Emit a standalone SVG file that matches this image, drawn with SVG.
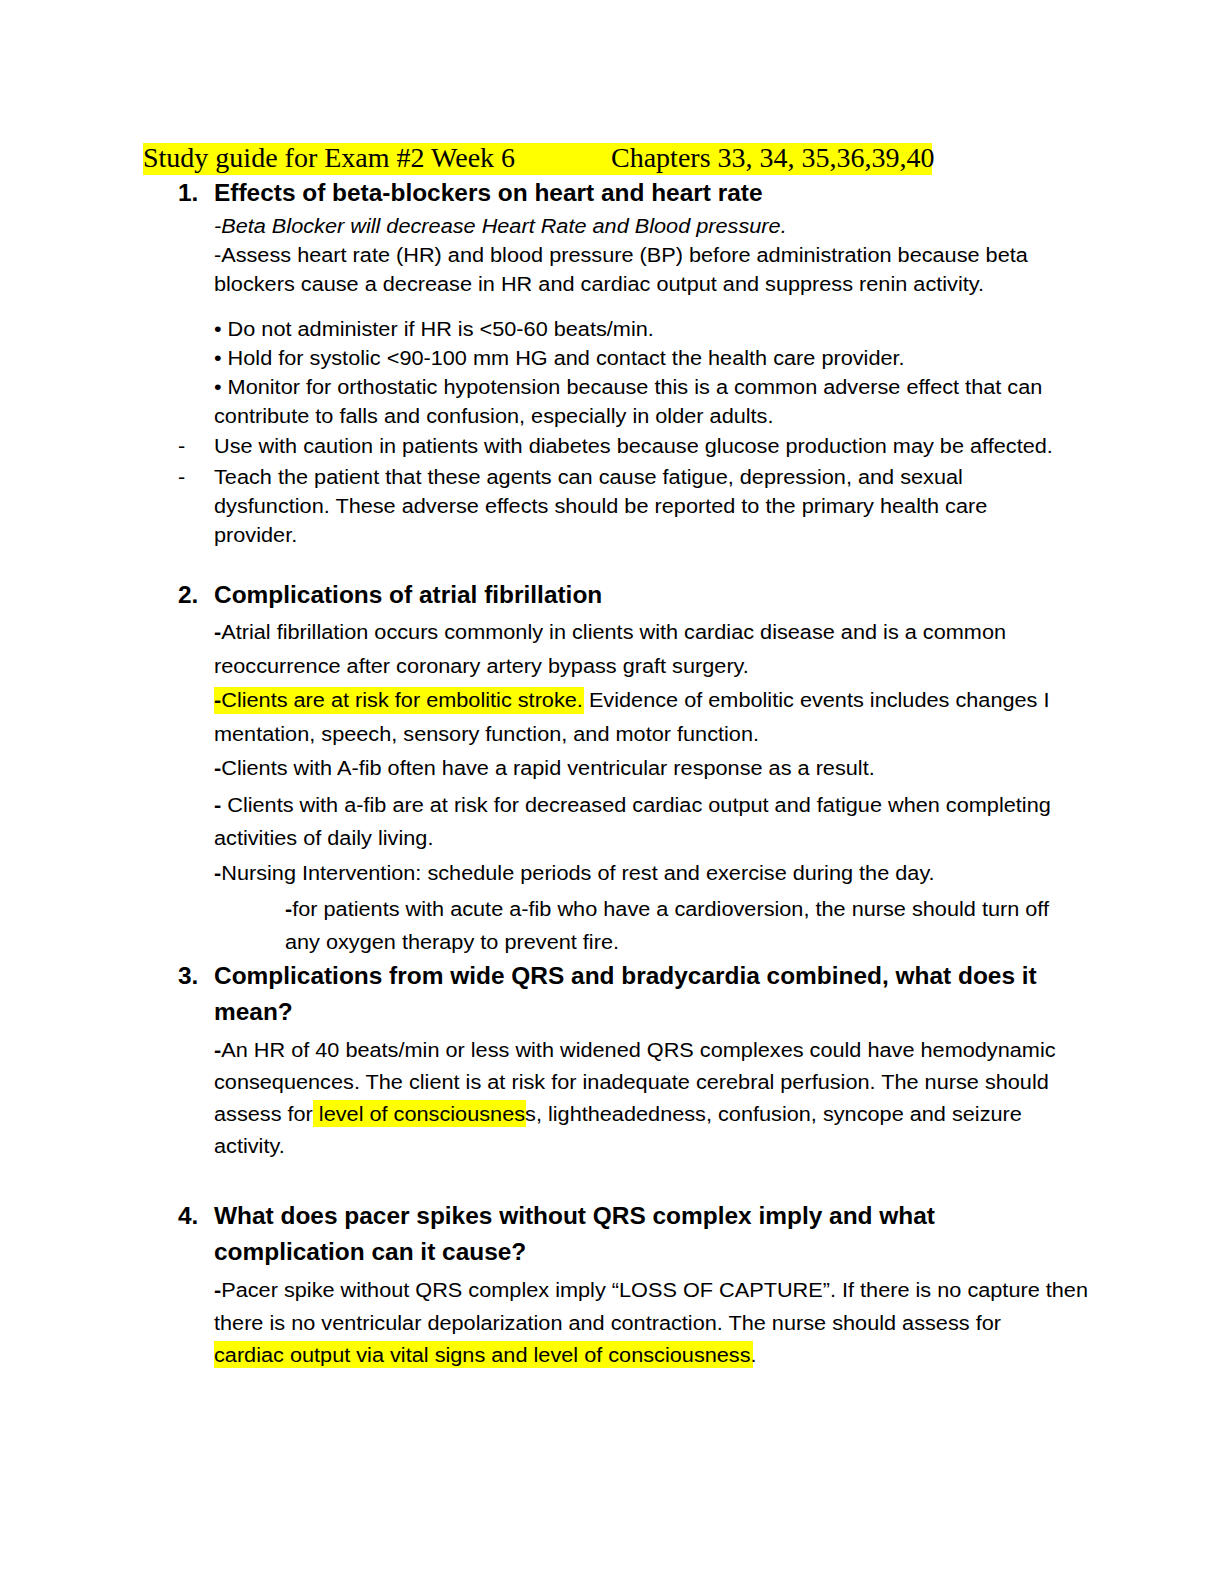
<svg xmlns="http://www.w3.org/2000/svg" width="1224" height="1584" viewBox="0 0 1224 1584">
<style>
.t{font-family:"Liberation Sans","DejaVu Sans",sans-serif;font-size:20px;fill:#000}
.h{font-family:"Liberation Sans","DejaVu Sans",sans-serif;font-size:23.5px;font-weight:bold;fill:#000}
.i{font-style:italic}
.b{font-weight:bold}
.s{font-family:"Liberation Serif","Times New Roman",serif;font-size:28px;fill:#000}
.hl{fill:#ffff00}
</style>
<rect width="1224" height="1584" fill="#fff"/>
<g id="highlights">
<rect class="hl" x="143" y="143" width="789" height="32"/>
<rect class="hl" x="214" y="687" width="370" height="27"/>
<rect class="hl" x="313" y="1100" width="213" height="27"/>
<rect class="hl" x="214" y="1341" width="539" height="27"/>
</g>
<text class="s" x="143" y="167">Study guide for Exam #2 Week 6</text>
<text class="s" x="611" y="167">Chapters 33, 34, 35,36,39,40</text>

<g transform="translate(214,0) scale(1.04,1) translate(-214,0)">
<text class="h" x="179.4" y="201">1.</text>
<text class="h" x="214" y="201">Effects of beta-blockers on heart and heart rate</text>
<text class="h" x="179.4" y="603">2.</text>
<text class="h" x="214" y="603">Complications of atrial fibrillation</text>
<text class="h" x="179.4" y="984">3.</text>
<text class="h" x="214" y="984">Complications from wide QRS and bradycardia combined, what does it</text>
<text class="h" x="214" y="1020">mean?</text>
<text class="h" x="179.4" y="1224">4.</text>
<text class="h" x="214" y="1224">What does pacer spikes without QRS complex imply and what</text>
<text class="h" x="214" y="1260">complication can it cause?</text>
</g>

<g transform="translate(214,0) scale(1.085,1) translate(-214,0)">
<text class="t i" x="214" y="233">-Beta Blocker will decrease Heart Rate and Blood pressure.</text>
<text class="t" x="214" y="262">-Assess heart rate (HR) and blood pressure (BP) before administration because beta</text>
<text class="t" x="214" y="291">blockers cause a decrease in HR and cardiac output and suppress renin activity.</text>
<text class="t" x="214" y="336">• Do not administer if HR is &lt;50-60 beats/min.</text>
<text class="t" x="214" y="365">• Hold for systolic &lt;90-100 mm HG and contact the health care provider.</text>
<text class="t" x="214" y="394">• Monitor for orthostatic hypotension because this is a common adverse effect that can</text>
<text class="t" x="214" y="423">contribute to falls and confusion, especially in older adults.</text>
<text class="t" x="180.8" y="453">-</text>
<text class="t" x="214" y="453">Use with caution in patients with diabetes because glucose production may be affected.</text>
<text class="t" x="180.8" y="484">-</text>
<text class="t" x="214" y="484">Teach the patient that these agents can cause fatigue, depression, and sexual</text>
<text class="t" x="214" y="513">dysfunction. These adverse effects should be reported to the primary health care</text>
<text class="t" x="214" y="542">provider.</text>

<text class="t" x="214" y="639"><tspan class="b">-</tspan>Atrial fibrillation occurs commonly in clients with cardiac disease and is a common</text>
<text class="t" x="214" y="673">reoccurrence after coronary artery bypass graft surgery.</text>
<text class="t" x="214" y="707"><tspan class="b">-</tspan>Clients are at risk for embolitic stroke. Evidence of embolitic events includes changes I</text>
<text class="t" x="214" y="741">mentation, speech, sensory function, and motor function.</text>
<text class="t" x="214" y="775"><tspan class="b">-</tspan>Clients with A-fib often have a rapid ventricular response as a result.</text>
<text class="t" x="214" y="812"><tspan class="b">-</tspan> Clients with a-fib are at risk for decreased cardiac output and fatigue when completing</text>
<text class="t" x="214" y="845">activities of daily living.</text>
<text class="t" x="214" y="880"><tspan class="b">-</tspan>Nursing Intervention: schedule periods of rest and exercise during the day.</text>
<text class="t" x="279.4" y="916"><tspan class="b">-</tspan>for patients with acute a-fib who have a cardioversion, the nurse should turn off</text>
<text class="t" x="279.4" y="949">any oxygen therapy to prevent fire.</text>

<text class="t" x="214" y="1057"><tspan class="b">-</tspan>An HR of 40 beats/min or less with widened QRS complexes could have hemodynamic</text>
<text class="t" x="214" y="1089">consequences. The client is at risk for inadequate cerebral perfusion. The nurse should</text>
<text class="t" x="214" y="1121">assess for level of consciousness, lightheadedness, confusion, syncope and seizure</text>
<text class="t" x="214" y="1153">activity.</text>

<text class="t" x="214" y="1297"><tspan class="b">-</tspan>Pacer spike without QRS complex imply “LOSS OF CAPTURE”. If there is no capture then</text>
<text class="t" x="214" y="1330">there is no ventricular depolarization and contraction. The nurse should assess for</text>
<text class="t" x="214" y="1362">cardiac output via vital signs and level of consciousness.</text>
</g>
</svg>
